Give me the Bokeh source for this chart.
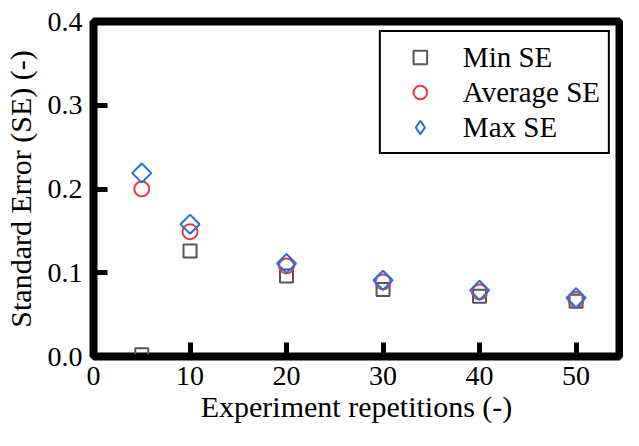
import math
from bokeh.plotting import figure
from bokeh.models import Range1d, FixedTicker, Legend, LegendItem
from bokeh.embed import file_html
from bokeh.resources import INLINE

# ---- data ----
repetitions = [5, 10, 20, 30, 40, 50]
min_se = [0.002, 0.126, 0.096, 0.080, 0.072, 0.066]
avg_se = [0.200, 0.149, 0.108, 0.089, 0.077, 0.068]
max_se = [0.219, 0.158, 0.111, 0.091, 0.079, 0.070]
series_labels = ["Min SE", "Average SE", "Max SE"]
x_ticks = [0, 10, 20, 30, 40, 50]
y_ticks = [0.0, 0.1, 0.2, 0.3, 0.4]
y_tick_labels = ["0.0", "0.1", "0.2", "0.3", "0.4"]
x_title = "Experiment repetitions (-)"
y_title = "Standard Error (SE) (-)"

FONT = "Liberation Serif"

p = figure(width=623, height=430, output_backend="svg", toolbar_location=None,
           x_range=Range1d(0, 54.5), y_range=Range1d(0, 0.4),
           min_border_left=93, min_border_right=4, min_border_top=21,
           min_border_bottom=74)
p.grid.visible = False
p.background_fill_color = "white"
p.border_fill_color = "white"
p.outline_line_color = "#000000"
p.outline_line_width = 8
p.outline_line_alpha = 1.0

p.xaxis.ticker = FixedTicker(ticks=x_ticks)
p.yaxis.ticker = FixedTicker(ticks=y_ticks)
p.yaxis.major_label_overrides = {t: l for t, l in zip(y_ticks, y_tick_labels)}
p.xaxis.axis_label = x_title
p.yaxis.axis_label = y_title

for ax in (p.xaxis, p.yaxis):
    ax.axis_line_width = 4
    ax.axis_line_color = "#000000"
    ax.major_tick_in = 14
    ax.major_tick_out = 0
    ax.major_tick_line_width = 5
    ax.major_tick_line_color = "#000000"
    ax.minor_tick_line_color = None
    ax.major_label_text_font = FONT
    ax.major_label_text_font_size = "28px"
    ax.major_label_text_color = "black"
    ax.axis_label_text_font = FONT
    ax.axis_label_text_font_size = "30px"
    ax.axis_label_text_font_style = "normal"
    ax.axis_label_text_color = "black"

p.xaxis.major_label_standoff = 10
p.xaxis.axis_label_standoff = 2
p.yaxis.major_label_standoff = 11
p.yaxis.axis_label_standoff = 8

r_min = p.scatter(repetitions, min_se, marker="square", size=13,
                  fill_color=None, line_color="#555555", line_width=2)
r_avg = p.scatter(repetitions, avg_se, marker="circle", size=15,
                  fill_color=None, line_color="#ec3b40", line_width=2)
r_max = p.scatter(repetitions, max_se, marker="square", size=13.5, angle=math.pi / 4,
                  fill_color=None, line_color="#2270e0", line_width=2)
# legend swatch for the diamond series (legend swatches are never rotated)
r_max_key = p.scatter(repetitions, max_se, marker="diamond", size=20,
                      fill_color=None, line_color="#2270e0", line_width=2,
                      visible=False)

legend = Legend(items=[LegendItem(label=series_labels[0], renderers=[r_min]),
                       LegendItem(label=series_labels[1], renderers=[r_avg]),
                       LegendItem(label=series_labels[2], renderers=[r_max_key])],
                location="top_right", margin=9, padding=8,
                glyph_width=62, glyph_height=34, label_height=30,
                label_standoff=12, spacing=1,
                label_text_font=FONT, label_text_font_size="29px",
                label_text_color="black",
                border_line_color="#000000", border_line_width=2, border_line_alpha=1.0,
                background_fill_alpha=1.0)
p.add_layout(legend)

open("out.html", "w").write(file_html(p, INLINE))
